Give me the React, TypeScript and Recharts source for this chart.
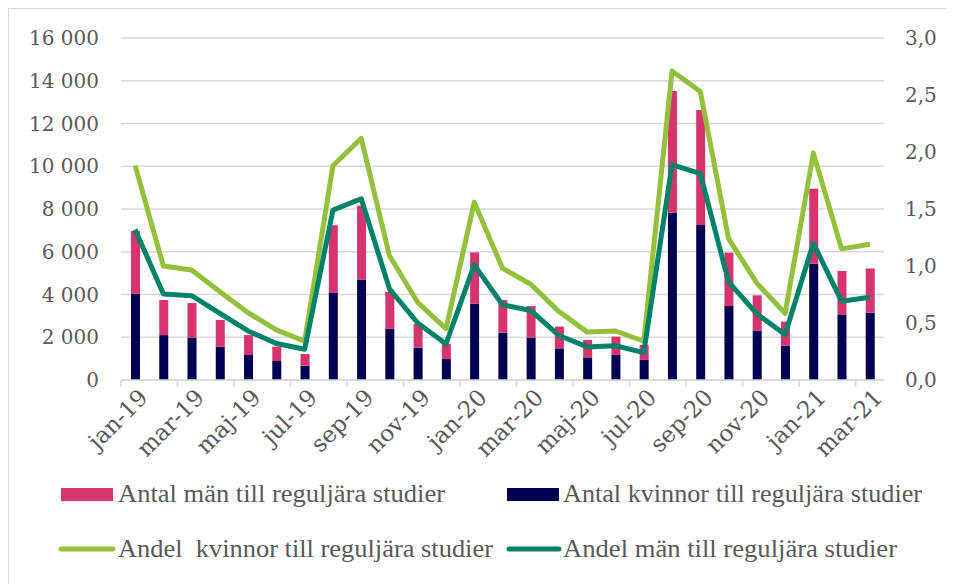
import React from 'react';
import { ComposedChart, Bar, Line, XAxis, YAxis, CartesianGrid } from 'recharts';

const months = [
  'jan-19', 'feb-19', 'mar-19', 'apr-19', 'maj-19', 'jun-19', 'jul-19', 'aug-19', 'sep-19', 'okt-19', 'nov-19', 'dec-19',
  'jan-20', 'feb-20', 'mar-20', 'apr-20', 'maj-20', 'jun-20', 'jul-20', 'aug-20', 'sep-20', 'okt-20', 'nov-20', 'dec-20',
  'jan-21', 'feb-21', 'mar-21',
];

const antalKvinnor = [
  4050, 2100, 1980, 1560, 1170, 890, 670, 4090, 4700, 2390, 1510, 980,
  3570, 2210, 1980, 1480, 1060, 1170, 940, 7840, 7250, 3460, 2310, 1610,
  5440, 3070, 3150,
];

const antalMan = [
  2920, 1640, 1620, 1250, 930, 670, 550, 3150, 3460, 1740, 1110, 700,
  2400, 1530, 1480, 1020, 810, 860, 700, 5680, 5380, 2500, 1650, 1120,
  3510, 2030, 2070,
];

const andelKvinnor = [
  1.88, 1.0, 0.965, 0.775, 0.59, 0.44, 0.34, 1.88, 2.12, 1.09, 0.68, 0.45,
  1.56, 0.98, 0.84, 0.6, 0.42, 0.43, 0.34, 2.71, 2.53, 1.24, 0.85, 0.585,
  1.99, 1.15, 1.19,
];

const andelMan = [
  1.32, 0.755, 0.74, 0.585, 0.43, 0.32, 0.27, 1.49, 1.59, 0.8, 0.5, 0.316,
  1.01, 0.66, 0.61, 0.39, 0.29, 0.3, 0.24, 1.89, 1.81, 0.86, 0.58, 0.4,
  1.2, 0.69, 0.725,
];

const leftTicks = [0, 2000, 4000, 6000, 8000, 10000, 12000, 14000, 16000];
const rightTicks = [0, 0.5, 1, 1.5, 2, 2.5, 3];

const data = months.map((m, i) => ({
  month: m,
  kvinnor: antalKvinnor[i],
  man: antalMan[i],
  andelK: andelKvinnor[i],
  andelM: andelMan[i],
}));

const PINK = '#d6336f';
const NAVY = '#000052';
const LIGHT_GREEN = '#93c13b';
const DARK_GREEN = '#00826a';
const GRID = '#d9d9d9';
const TEXT = '#595959';
const TICK_FONT = '"DejaVu Serif", serif';
const LEGEND_FONT = '"Liberation Serif", serif';

const fmtLeft = (v: number) => v.toLocaleString('sv-SE').replace(/\u00a0/g, ' ');
const fmtRight = (v: number) => v.toFixed(1).replace('.', ',');

const XTick = (props: any) => {
  const { x, y, payload, width } = props;
  const band = (width || 763) / months.length;
  const tx = x + 14;
  const ty = y + 19;
  return (
    <g>
      <line x1={x - band / 2} x2={x - band / 2} y1={y} y2={y + 7} stroke={GRID} strokeWidth={1.5} />
      <text
        x={tx}
        y={ty}
        transform={`rotate(-45, ${tx}, ${ty})`}
        textAnchor="end"
        fill={TEXT}
        fontSize={23}
        fontFamily={TICK_FONT}
      >
        {payload.value}
      </text>
    </g>
  );
};

const Legend = () => (
  <svg width={946} height={120} style={{ position: 'absolute', left: 0, top: 456 }}>
    <g transform="translate(0,-456)" fontFamily={LEGEND_FONT} fontSize={25} fill={TEXT}>
      <rect x={53} y={480} width={52} height={13} fill={PINK} />
      <text x={110} y={494} textLength={327} lengthAdjust="spacingAndGlyphs">Antal män till reguljära studier</text>
      <rect x={499} y={480} width={52} height={13} fill={NAVY} />
      <text x={555} y={494} textLength={359} lengthAdjust="spacingAndGlyphs">Antal kvinnor till reguljära studier</text>
      <line x1={53} x2={105} y1={541} y2={541} stroke={LIGHT_GREEN} strokeWidth={5} strokeLinecap="round" />
      <text x={110} y={549} textLength={375} lengthAdjust="spacingAndGlyphs" style={{ whiteSpace: 'pre' }}>Andel  kvinnor till reguljära studier</text>
      <line x1={501} x2={551} y1={541} y2={541} stroke={DARK_GREEN} strokeWidth={5} strokeLinecap="round" />
      <text x={555} y={549} textLength={334} lengthAdjust="spacingAndGlyphs">Andel män till reguljära studier</text>
    </g>
  </svg>
);

export default function App() {
  return (
    <div style={{ position: 'relative', width: 946, height: 576 }}>
      <div
        style={{
          position: 'absolute',
          left: 0,
          top: 0,
          width: 946,
          height: 576,
          borderTop: `1.5px solid ${GRID}`,
          borderLeft: `1.5px solid ${GRID}`,
          boxSizing: 'border-box',
        }}
      />
      <ComposedChart
        width={946}
        height={576}
        data={data}
        margin={{ top: 30, right: 0, left: 0, bottom: 0 }}
        barGap={0}
      >
        <CartesianGrid yAxisId="left" vertical={false} stroke={GRID} strokeWidth={1.5} />
        <XAxis
          dataKey="month"
          interval={1}
          height={204}
          tickLine={false}
          tickSize={0}
          tickMargin={0}
          axisLine={{ stroke: GRID, strokeWidth: 1.5 }}
          tick={<XTick />}
        />
        <YAxis
          yAxisId="left"
          orientation="left"
          width={113}
          domain={[0, 16000]}
          ticks={leftTicks}
          tickFormatter={fmtLeft}
          axisLine={false}
          tickLine={false}
          tickSize={0}
          tickMargin={22}
          tick={{ fill: TEXT, fontSize: 20, fontFamily: TICK_FONT }}
        />
        <YAxis
          yAxisId="right"
          orientation="right"
          width={70}
          domain={[0, 3]}
          ticks={rightTicks}
          tickFormatter={fmtRight}
          axisLine={false}
          tickLine={false}
          tickSize={0}
          tickMargin={21}
          tick={{ fill: TEXT, fontSize: 20, fontFamily: TICK_FONT, textAnchor: 'start' }}
        />
        <Bar yAxisId="left" dataKey="kvinnor" stackId="a" fill={NAVY} barSize={9} isAnimationActive={false} />
        <Bar yAxisId="left" dataKey="man" stackId="a" fill={PINK} barSize={9} isAnimationActive={false} />
        <Line
          yAxisId="right"
          dataKey="andelK"
          stroke={LIGHT_GREEN}
          strokeWidth={5}
          dot={false}
          strokeLinejoin="round"
          isAnimationActive={false}
        />
        <Line
          yAxisId="right"
          dataKey="andelM"
          stroke={DARK_GREEN}
          strokeWidth={5}
          dot={false}
          strokeLinejoin="round"
          isAnimationActive={false}
        />
      </ComposedChart>
      <Legend />
    </div>
  );
}
